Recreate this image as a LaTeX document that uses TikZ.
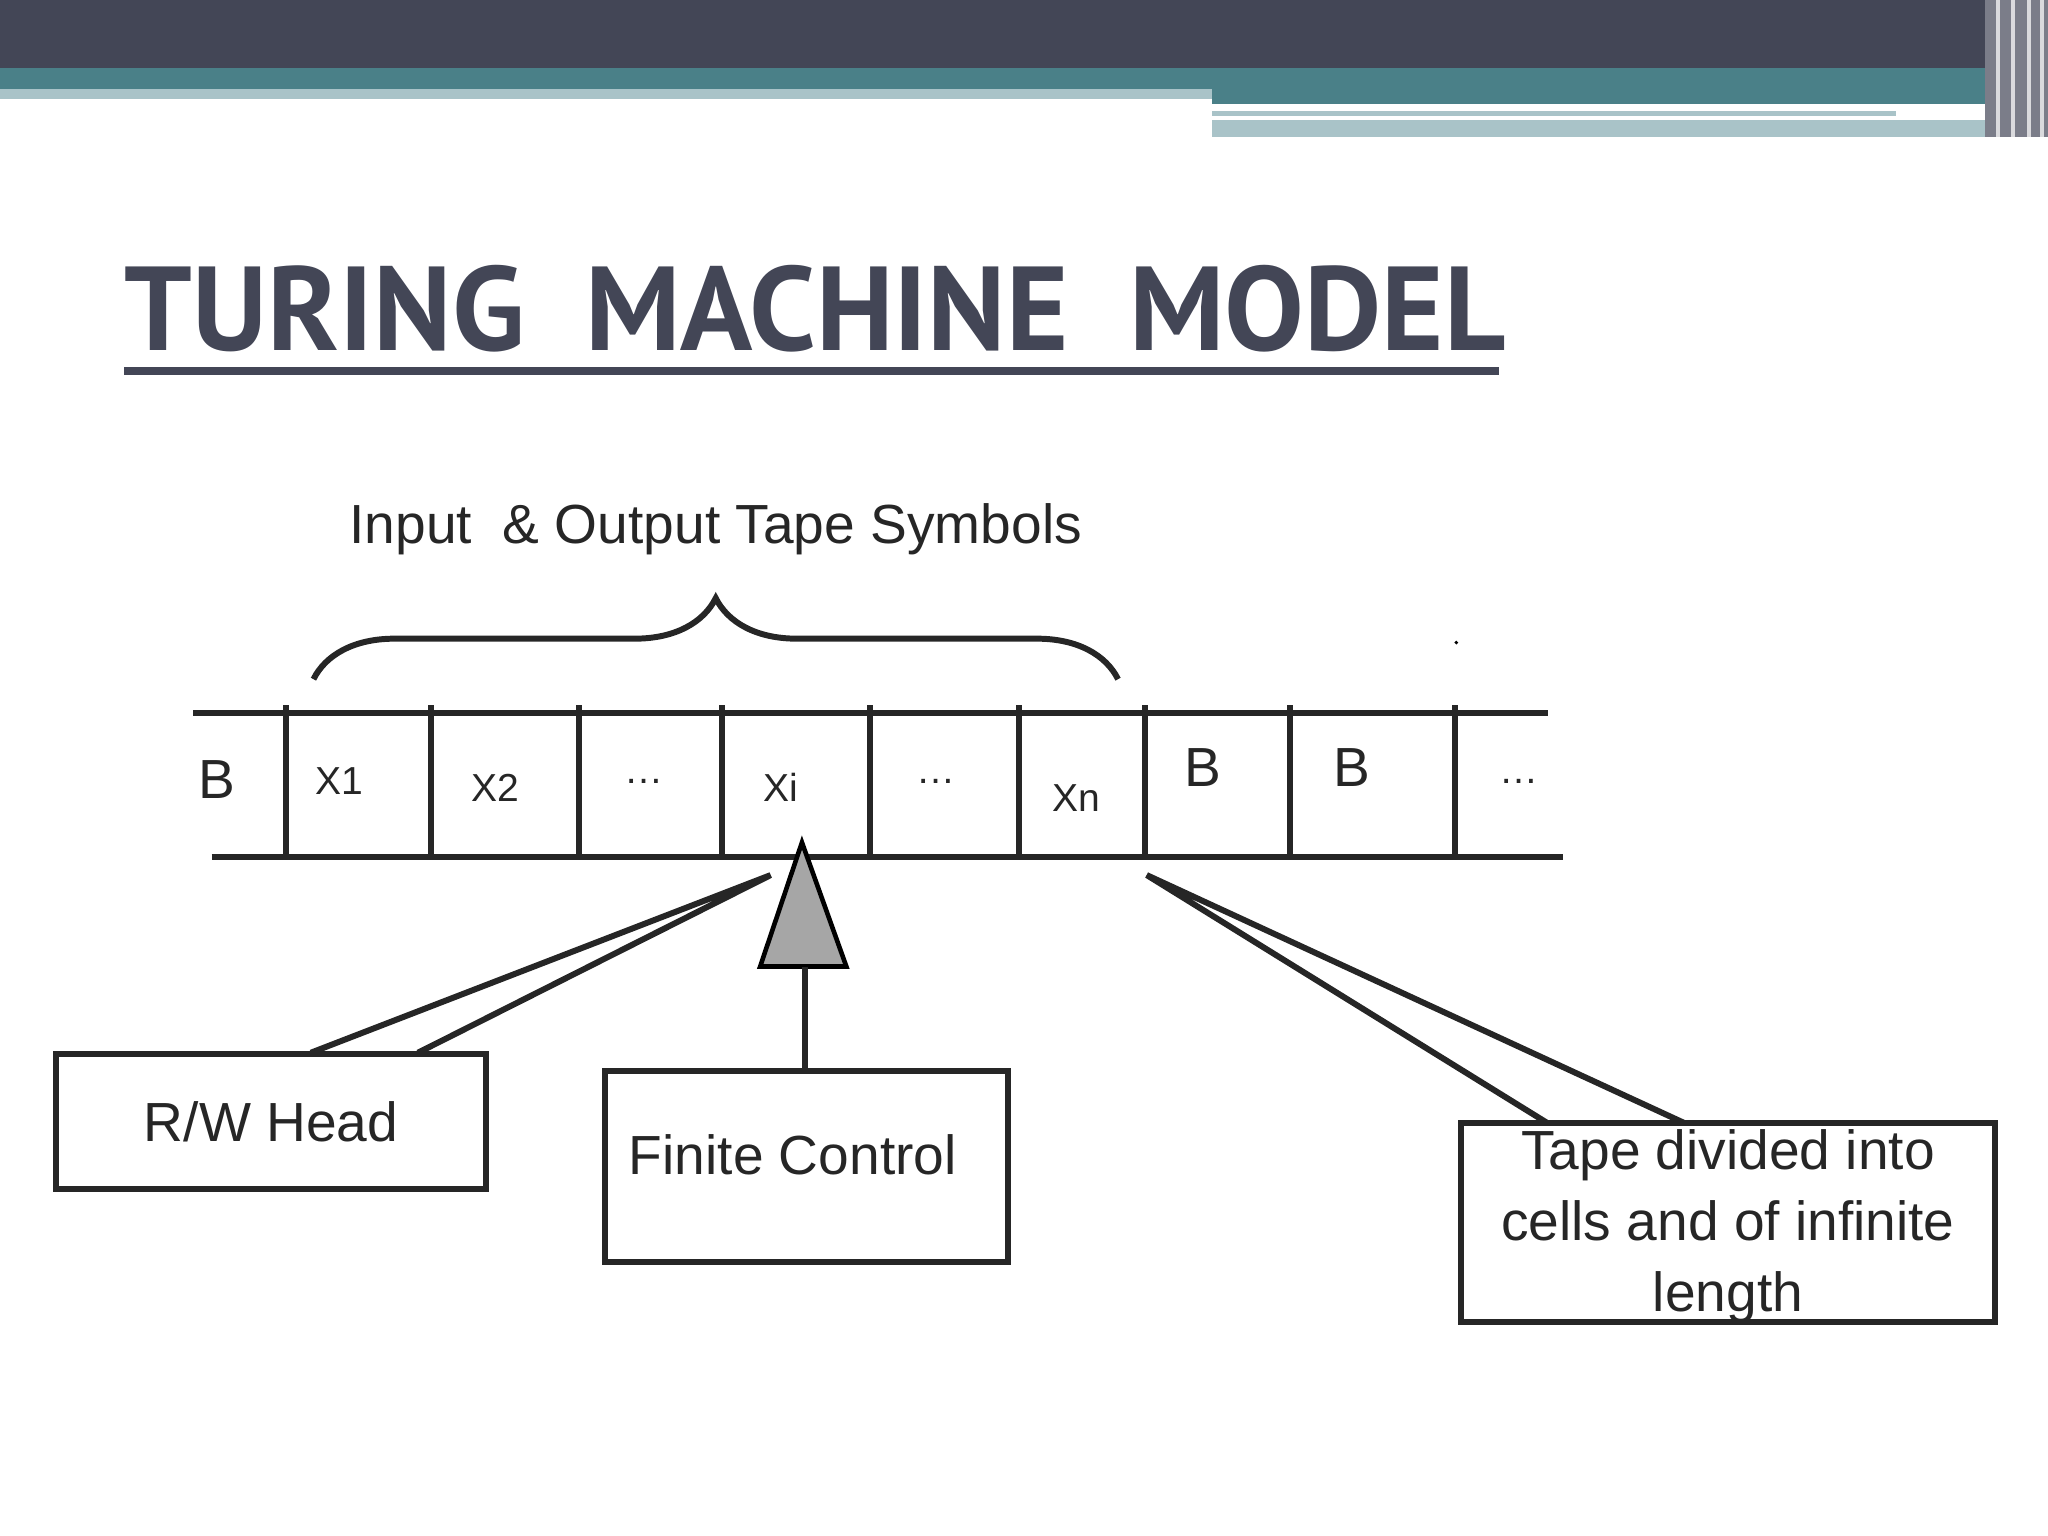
\documentclass[tikz,border=0pt]{standalone}
\usepackage{fontspec}
\setmainfont{Liberation Sans}
\newfontfamily\titlefont{PT Sans}
\usetikzlibrary{decorations.pathreplacing}
\definecolor{dark}{HTML}{434656}
\definecolor{teal}{HTML}{4A8088}
\definecolor{lightb}{HTML}{A9C3C8}
\begin{document}
\begin{tikzpicture}[x=0.01cm,y=-0.01cm,
  ln/.style={line width=1.3pt,black!85},
  box/.style={draw,line width=1.3pt,black!85,inner sep=0},
  lab/.style={font=\fontsize{12}{14}\selectfont,text=black!85},
  sym/.style={font=\fontsize{8.5}{10}\selectfont,text=black!85}]
\useasboundingbox (0,0) rectangle (1568,1176);
% header
\fill[dark] (0,0) rectangle (1568,52);
\fill[teal] (0,52) rectangle (1520,68);
\fill[lightb] (0,68) rectangle (928,76);
\fill[teal] (928,68) rectangle (1520,80);
\fill[lightb] (928,85) rectangle (1452,89);
\fill[lightb] (928,92) rectangle (1520,105);
\fill[dark!70] (1520,0) rectangle (1568,105);
\foreach \x in {1528,1540,1552,1562} \fill[white!80!dark] (\x,0) rectangle (\x+3,105);
% title
\node[anchor=base west,inner sep=0,text=dark,font=\titlefont\bfseries\fontsize{26}{30}\selectfont] (title) at (95,268) {TURING\ \ MACHINE\ \ MODEL};
\fill[dark] (95,281) rectangle (1148,287);
% tape
\coordinate (t1) at (148,546); \coordinate (t2) at (1185,546);
\coordinate (b1) at (162,656); \coordinate (b2) at (1197,656);
\draw[ln] (t1) -- (t2); \draw[ln] (b1) -- (b2);
\foreach \x in {219,330,443,553,666,780,877,988,1114} \draw[ln] (\x,540) -- (\x,656);
\node[lab] (c0) at (166,597) {B};
\node[sym] (c1) at (260,598) {X1};
\node[sym] (c2) at (379,603) {X2};
\node[sym] (c3) at (493,598) {\dots};
\node[sym] (c4) at (598,603) {Xi};
\node[sym] (c5) at (717,598) {\dots};
\node[sym] (c6) at (824,611) {Xn};
\node[lab] (c7) at (921,588) {B};
\node[lab] (c8) at (1035,588) {B};
\node[sym] (c9) at (1163,598) {\dots};
% brace
\draw[ln,decorate,decoration={brace,amplitude=0.62cm,aspect=0.5}] (240,520) -- (856,520);
\node[lab] (in) at (548,405) {Input\ \ \& Output Tape Symbols};
\fill (1115,492) circle (1.5);
% head
\coordinate (apex) at (614,645);
\draw[line width=1pt,fill=black!35] (apex) -- (648,740) -- (582,740) -- cycle;
\coordinate (tb) at (616,740);
% boxes
\node[box,minimum width=3.29cm,minimum height=1.03cm,lab] (rw) at (207.5,858.5) {R/W Head};
\node[box,minimum width=3.09cm,minimum height=1.46cm] (fc) at (617.5,893) {};
\node[lab] (fct) at (607,884) {Finite Control};
\node[box,minimum width=4.08cm,minimum height=1.52cm] (tp) at (1323,936) {};
\node[lab,align=center] (tpt) at (1323,939) {Tape divided into\\[1.5pt]cells and of infinite\\[1.5pt]length};
\draw[ln] (tb) -- (fc.north -| tb);
% wedges
\coordinate (w1) at (590,670);
\draw[ln] (238,806) -- (w1) -- (320,806);
\coordinate (w2) at (878,670);
\draw[ln] (1185,860) -- (w2) -- (1290,860);
\end{tikzpicture}
\end{document}
